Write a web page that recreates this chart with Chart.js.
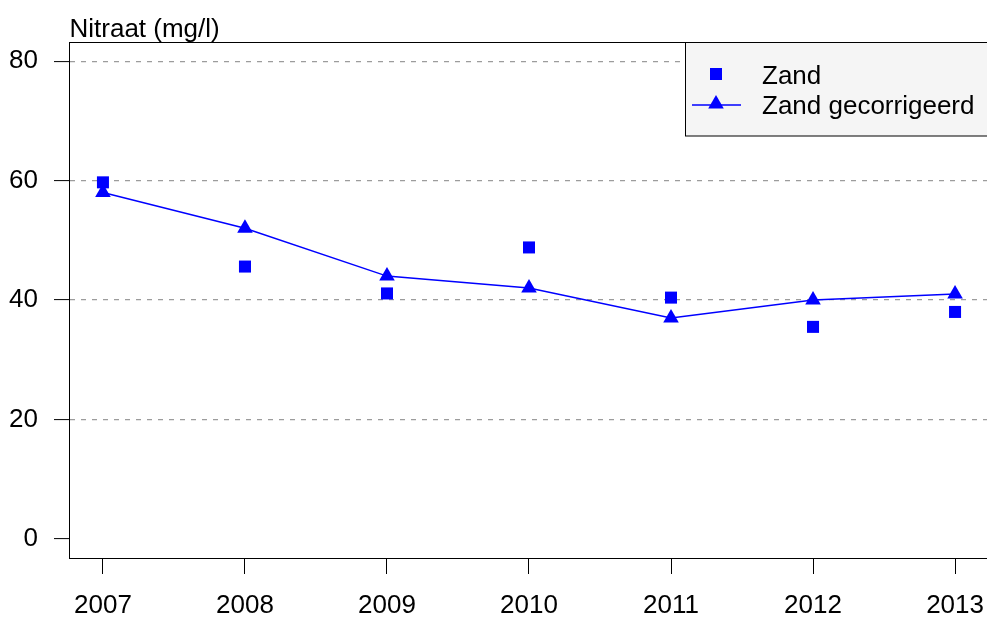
<!DOCTYPE html>
<html lang="nl">
<head>
  <meta charset="UTF-8" />
  <title>Nitraat (mg/l) - Zand</title>
  <script src="https://cdn.jsdelivr.net/npm/chart.js"></script>
  <style>
    html, body { margin: 0; padding: 0; background: #fff; }
    #wrap { width: 987px; height: 617px; }
  </style>
</head>
<body>
  <div id="wrap"><canvas id="nitraatChart" width="987" height="617"></canvas></div>

  <script>
    const years = [2007, 2008, 2009, 2010, 2011, 2012, 2013];
    const zand = [59.7, 45.6, 41.1, 48.8, 40.4, 35.5, 38.0];
    const zandGecorrigeerd = [58, 52, 44, 42, 37, 40, 41];
    const yTicks = [0, 20, 40, 60, 80];
    const xTicks = years;
    const legendLabels = ['Zand', 'Zand gecorrigeerd'];
    const yTitle = 'Nitraat (mg/l)';

    const FONT = "'Liberation Sans', Arial, sans-serif";
    const BLUE = '#0000ff';

    // kader, titel en legenda in R-stijl
    const framePlugin = {
      id: 'frame',
      afterDraw(chart) {
        const ctx = chart.ctx;
        const a = chart.chartArea;
        ctx.save();
        ctx.strokeStyle = '#000';
        ctx.lineWidth = 1;
        ctx.strokeRect(a.left - 0.5, a.top + 0.5, a.right - a.left + 10, a.bottom - a.top);

        ctx.fillStyle = '#000';
        ctx.font = '26px ' + FONT;
        ctx.textBaseline = 'alphabetic';
        ctx.textAlign = 'left';
        ctx.fillText(yTitle, a.left - 0.5, 36.5);

        // legenda
        const lx = 685.5, ly = 42.5;
        ctx.fillStyle = '#f5f5f5';
        ctx.fillRect(lx, ly, 400, 93.5);
        ctx.strokeRect(lx, ly, 400, 93.5);

        ctx.fillStyle = BLUE;
        ctx.fillRect(710, 68, 12, 12);

        ctx.strokeStyle = BLUE;
        ctx.lineWidth = 1.5;
        ctx.beginPath();
        ctx.moveTo(692, 105);
        ctx.lineTo(741, 105);
        ctx.stroke();
        const r = 9, cx = 716, cy = 104;
        ctx.beginPath();
        ctx.moveTo(cx, cy - r);
        ctx.lineTo(cx + r * Math.sin(2 * Math.PI / 3), cy - r * Math.cos(2 * Math.PI / 3));
        ctx.lineTo(cx + r * Math.sin(4 * Math.PI / 3), cy - r * Math.cos(4 * Math.PI / 3));
        ctx.closePath();
        ctx.fill();

        ctx.fillStyle = '#000';
        ctx.fillText(legendLabels[0], 762, 83.5);
        ctx.fillText(legendLabels[1], 762, 113.5);
        ctx.restore();
      }
    };

    const chart = new Chart(document.getElementById('nitraatChart'), {
      type: 'scatter',
      data: {
        datasets: [
          {
            label: legendLabels[0],
            data: years.map((y, i) => ({ x: y, y: zand[i] })),
            showLine: false,
            pointStyle: 'rect',
            pointRadius: 8.5,
            pointBackgroundColor: BLUE,
            pointBorderWidth: 0,
            borderColor: BLUE
          },
          {
            label: legendLabels[1],
            data: years.map((y, i) => ({ x: y, y: zandGecorrigeerd[i] })),
            showLine: true,
            borderColor: BLUE,
            borderWidth: 1.5,
            pointStyle: 'triangle',
            pointRadius: 9,
            pointBackgroundColor: BLUE,
            pointBorderWidth: 0,
            tension: 0
          }
        ]
      },
      options: {
        responsive: false,
        animation: false,
        devicePixelRatio: 1,
        layout: { autoPadding: false, padding: { top: 42, left: 0, right: 0, bottom: 0 } },
        plugins: {
          legend: { display: false },
          tooltip: { enabled: false }
        },
        scales: {
          x: {
            type: 'linear',
            min: 2006.768,
            max: 2013.225,
            afterBuildTicks: (scale) => { scale.ticks = xTicks.map(v => ({ value: v })); },
            afterFit: (scale) => {
              scale.height = 59;
              scale.paddingLeft = 0;
              scale.paddingRight = 0;
            },
            ticks: {
              callback: (v) => String(v),
              color: '#000',
              font: { family: FONT, size: 26 },
              padding: 16,
              maxRotation: 0,
              autoSkip: false
            },
            grid: {
              drawOnChartArea: false,
              drawTicks: true,
              tickLength: 16,
              tickColor: '#000',
              tickWidth: 1
            },
            border: { display: false }
          },
          y: {
            min: -3.2,
            max: 83.2,
            afterBuildTicks: (scale) => { scale.ticks = yTicks.map(v => ({ value: v })); },
            afterFit: (scale) => {
              scale.width = 70;
              scale.paddingTop = 0;
              scale.paddingBottom = 0;
            },
            ticks: {
              callback: (v) => String(v),
              color: '#000',
              font: { family: FONT, size: 26 },
              padding: 16
            },
            grid: {
              color: (c) => (c.tick && c.tick.value === 0 ? 'rgba(0,0,0,0)' : '#9c9c9c'),
              lineWidth: 1.2,
              drawTicks: true,
              tickLength: 16,
              tickColor: '#000',
              tickWidth: 1,
              tickBorderDash: []
            },
            border: { display: false, dash: [5, 6] }
          }
        }
      },
      plugins: [framePlugin]
    });
  </script>
</body>
</html>
